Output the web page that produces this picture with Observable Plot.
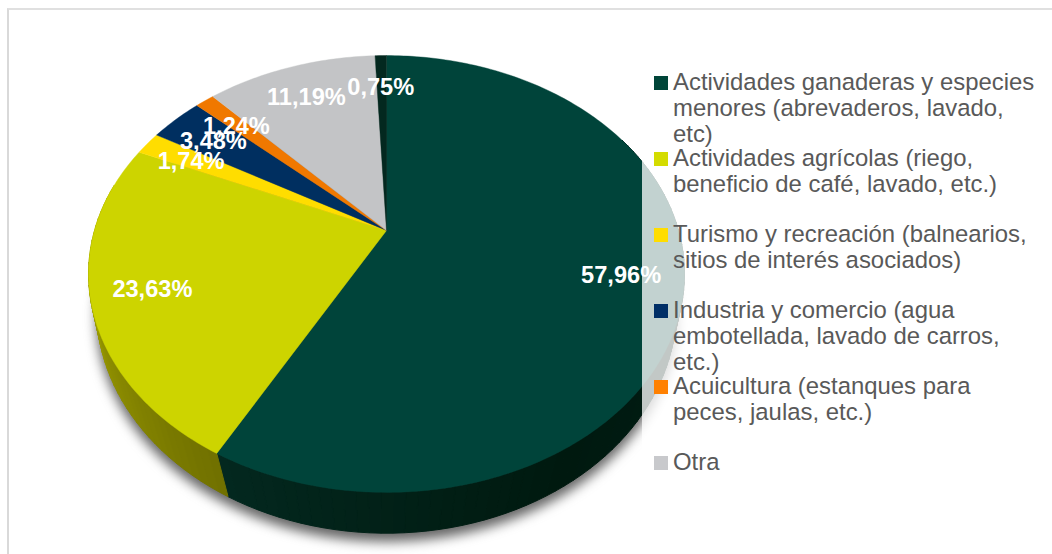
<!DOCTYPE html>
<html><head><meta charset="utf-8">
<script src="https://cdn.jsdelivr.net/npm/d3@7"></script>
<script src="https://cdn.jsdelivr.net/npm/@observablehq/plot@0.6"></script>
<style>
html,body{margin:0;padding:0;background:#fff;overflow:hidden}
#page{position:relative;width:1052px;height:554px;overflow:hidden;font-family:"Liberation Sans",Arial,sans-serif}
#frame{position:absolute;left:7px;top:8px;width:1100px;height:600px;border-left:2px solid #d9d9d9;border-top:2px solid #e0e0e0}
#chart{position:absolute;left:0;top:0}
#legend{position:absolute;left:642px;top:60px;width:410px;height:430px;background:rgba(255,255,255,.76)}
.item{position:absolute;left:0;height:76px;width:410px}
.sw{position:absolute;left:12px;top:7px;width:14px;height:14px}
.tx{position:absolute;left:31px;top:0;font-size:23.9px;line-height:26px;color:#595959;white-space:pre}
</style></head><body>
<div id="page"><div id="frame"></div><div id="chart"></div><div id="legend"></div></div>
<script>
// ---- data ----
const sliceKeys = ["ganaderas","agricolas","turismo","industria","acuicultura","otra","resto"];
const sliceValues = [57.96, 23.63, 1.74, 3.48, 1.24, 11.19, 0.75];
const sliceLabels = ["57,96%","23,63%","1,74%","3,48%","1,24%","11,19%","0,75%"];
const sliceColors = ["#00443a","#cdd400","#ffdd00","#002f60","#f07800","#c3c4c6","#03281f"];
const legendNames = [
  "Actividades ganaderas y especies\nmenores (abrevaderos, lavado,\netc)",
  "Actividades agrícolas (riego,\nbeneficio de café, lavado, etc.)",
  "Turismo y recreación (balnearios,\nsitios de interés asociados)",
  "Industria y comercio (agua\nembotellada, lavado de carros,\netc.)",
  "Acuicultura (estanques para\npeces, jaulas, etc.)",
  "Otra"
];
const legendColors = ["#004539","#d4dc00","#ffdd00","#002f67","#ff8000","#c8c9cc"];

// ---- 3D pie view: a circle seen in perspective ----
const topView = {cx:386, d:292,   a:164, b:230, k:-0.199};
const lowView = {cx:386, d:286.7, a:178.8, b:274, k:-0.15};
const project = (view, thetaDeg, r=1) => {
  const t = thetaDeg*Math.PI/180, u = r*Math.sin(t), v = -r*Math.cos(t), w = 1+view.k*v;
  return {x: view.cx + view.d*u/w, y: (view.a*v+view.b)/w};
};
const total = d3.sum(sliceValues);
let acc = 0;
const slices = sliceKeys.map((key,i)=>{
  const start = acc/total*360; acc += sliceValues[i]; const end = acc/total*360;
  return {key, start, end, label: sliceLabels[i]};
});
const span = (a,b,step=1) => { const n=Math.max(1,Math.ceil((b-a)/step)); return d3.range(n+1).map(i=>a+(b-a)*i/n); };

// top face
const faces = slices.flatMap(s=>{
  const apex = {...project(topView,0,0), key:s.key};
  return [apex, ...span(s.start,s.end).map(t=>({...project(topView,t), key:s.key})), apex];
});
// rim: only the two front slices show it
const rimShade = [
  {from:62, to:slices[0].end, colors:["#012019","#00190f","#03281f"], stops:[62,150,slices[0].end]},
  {from:slices[1].start, to:283, colors:["#707000","#909000","#b4b800"], stops:[slices[1].start,245,283]}
];
const rim = rimShade.flatMap((seg,si)=>{
  const scale = d3.scaleLinear().domain(seg.stops).range(seg.colors);
  const ts = span(seg.from,seg.to,2);
  return ts.slice(0,-1).flatMap((t,i)=>{
    const t2 = ts[i+1], id = si+"-"+i, shade = scale((t+t2)/2);
    return [project(topView,t),project(topView,t2),project(lowView,t2),project(lowView,t),project(topView,t)]
      .map(p=>({...p,id,shade}));
  });
});
// soft shadow under the body
const shadow = span(0,360,2).map(t=>{const p=project(lowView,t); return {x:p.x, y:p.y+8, id:"shadow", shade:"#666"};});
// labels
const labels = slices.map(s=>({...project(topView,(s.start+s.end)/2,0.8), label:s.label}));

const plot = Plot.plot({
  width:1052, height:554, margin:0,
  x:{domain:[0,1052], range:[0,1052], axis:null},
  y:{domain:[0,554], range:[0,554], axis:null},
  color:{domain:sliceKeys, range:sliceColors},
  style:{background:"transparent", overflow:"visible"},
  marks:[
    Plot.line(shadow,{x:"x",y:"y",z:"id",fill:{value:"shade",scale:null},stroke:{value:"shade",scale:null},strokeWidth:1}),
    Plot.line(rim,{x:"x",y:"y",z:"id",fill:{value:"shade",scale:null},stroke:{value:"shade",scale:null},strokeWidth:1,curve:"linear"}),
    Plot.line(faces,{x:"x",y:"y",z:"key",fill:"key",stroke:"key",strokeWidth:.4,curve:"linear"}),
    Plot.text(labels,{x:"x",y:"y",dx:-1,dy:2,text:"label",fill:"#fff",fontWeight:"bold",fontSize:23.6,fontFamily:"'Liberation Sans',Arial,sans-serif",textAnchor:"middle",lineAnchor:"middle"})
  ]
});
const shadowPath = plot.querySelector("path[fill='#666'], path[stroke='#666']");
if (shadowPath) shadowPath.style.filter = "blur(6px)";
document.getElementById("chart").append(plot);

const legend = d3.select("#legend");
legendNames.forEach((name,i)=>{
  const it = legend.append("div").attr("class","item").style("top",(9+76*i)+"px");
  it.append("div").attr("class","sw").style("background",legendColors[i]);
  it.append("div").attr("class","tx").text(name);
});
</script>
</body></html>
